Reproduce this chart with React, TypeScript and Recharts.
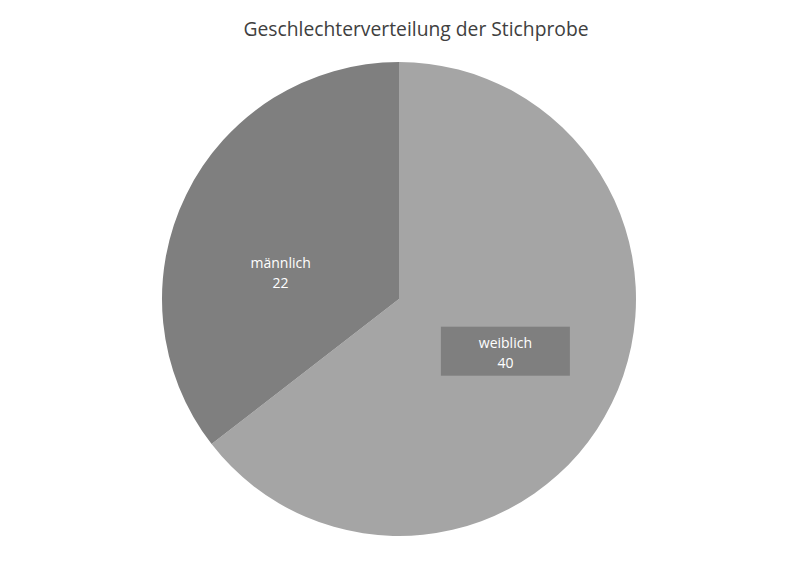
import React from "react";
import { PieChart, Pie, Cell } from "recharts";

const categories = ["weiblich", "männlich"];
const counts = [40, 22];
const sliceColors = ["#a5a5a5", "#7f7f7f"];
const chartTitle = "Geschlechterverteilung der Stichprobe";

const data = categories.map((name, i) => ({ name, value: counts[i] }));

// Excel "best fit" label placement differs a bit from pure mid-angle
const LABEL_NUDGE: Record<string, { dx: number; dy: number; box: boolean }> = {
  weiblich: { dx: 0, dy: 0, box: true },
  männlich: { dx: -12, dy: 25, box: false },
};

const FONT = "'Open Sans', 'DejaVu Sans', sans-serif";

function renderLabel(props: any) {
  const { cx, cy, midAngle, outerRadius, name, value } = props;
  const RAD = Math.PI / 180;
  const r = outerRadius * 0.5;
  const nudge = LABEL_NUDGE[name] || { dx: 0, dy: 0, box: false };
  const x = cx + r * Math.cos(-midAngle * RAD) + nudge.dx;
  const y = cy + r * Math.sin(-midAngle * RAD) + nudge.dy;
  return (
    <g>
      {nudge.box && (
        <rect x={x - 64.5} y={y - 24.5} width={129} height={49} fill="#7f7f7f" />
      )}
      <text
        x={x}
        y={y - 9}
        textAnchor="middle"
        dominantBaseline="central"
        fill="#ffffff"
        fontSize={14}
        fontFamily={FONT}
      >
        {name}
      </text>
      <text
        x={x}
        y={y + 11}
        textAnchor="middle"
        dominantBaseline="central"
        fill="#ffffff"
        fontSize={14}
        fontFamily={FONT}
      >
        {value}
      </text>
    </g>
  );
}

export default function App() {
  return (
    <div style={{ position: "absolute", left: 0, top: 0, width: 800, height: 574, background: "#ffffff" }}>
      <PieChart width={800} height={574} margin={{ top: 0, right: 0, bottom: 0, left: 0 }}>
        <text
          x={416}
          y={28}
          textAnchor="middle"
          dominantBaseline="central"
          fill="#404040"
          fontSize={19.3}
          fontFamily={FONT}
        >
          {chartTitle}
        </text>
        <Pie
          data={data}
          dataKey="value"
          nameKey="name"
          cx={399}
          cy={299}
          outerRadius={237}
          startAngle={90}
          endAngle={-270}
          stroke="none"
          label={renderLabel}
          labelLine={false}
          isAnimationActive={false}
        >
          {data.map((d, i) => (
            <Cell key={d.name} fill={sliceColors[i]} />
          ))}
        </Pie>
      </PieChart>
    </div>
  );
}
